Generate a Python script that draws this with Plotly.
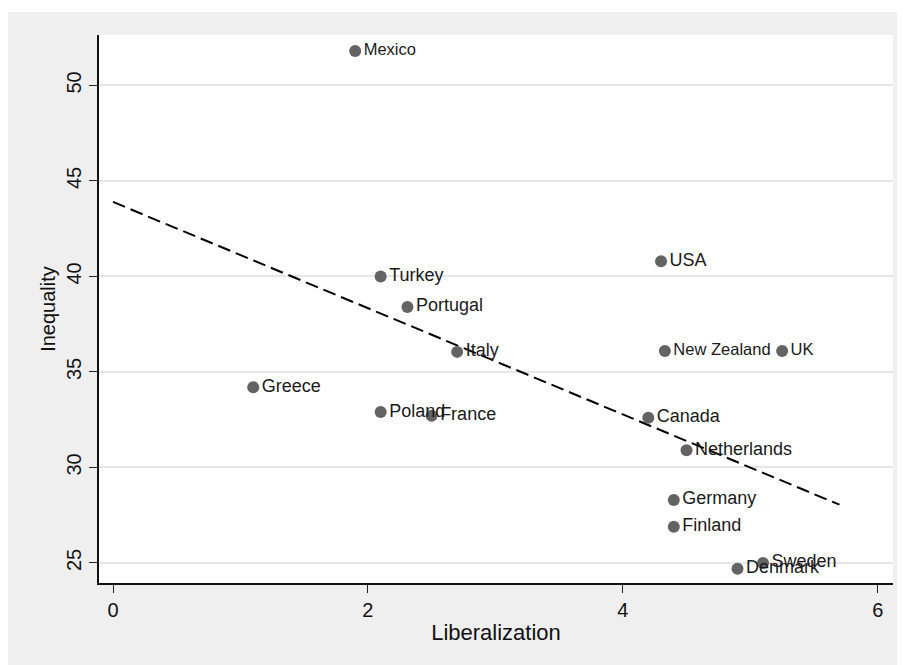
import plotly.graph_objects as go

countries = ["Mexico", "USA", "Turkey", "Portugal", "Italy", "New Zealand", "UK",
             "Greece", "Poland", "France", "Canada", "Netherlands", "Germany",
             "Finland", "Denmark", "Sweden"]
liberalization = [1.90, 4.30, 2.10, 2.31, 2.70, 4.33, 5.25,
                  1.10, 2.10, 2.50, 4.20, 4.50, 4.40,
                  4.40, 4.90, 5.10]
inequality = [51.8, 40.8, 40.0, 38.4, 36.05, 36.1, 36.1,
              34.2, 32.9, 32.7, 32.6, 30.9, 28.3,
              26.9, 24.7, 25.0]
narrow_labels = ["Mexico", "New Zealand", "UK"]
fit_x = [0.0, 5.7]
fit_y = [43.9, 28.05]
x_ticks = [0, 2, 4, 6]
y_ticks = [25, 30, 35, 40, 45, 50]

label_sizes = [16.5 if c in narrow_labels else 18 for c in countries]

W, H = 897, 657
L, R, T, B = 91, 12, 27, 82
pw, ph = W - L - R, H - T - B

fig = go.Figure()
fig.add_trace(go.Scatter(
    x=fit_x, y=fit_y, mode="lines",
    line=dict(color="black", width=2, dash="13px,6px"),
    showlegend=False, hoverinfo="skip"))
fig.add_trace(go.Scatter(
    x=liberalization, y=inequality, mode="markers+text",
    text=countries, textposition="middle right",
    marker=dict(size=12, color="#636363"),
    textfont=dict(size=label_sizes, color="#1a1a1a",
                  family="Liberation Sans, Arial, sans-serif"),
    cliponaxis=False, showlegend=False, hoverinfo="skip"))

# thin white strip at the very top (page background above the gray frame)
fig.add_shape(type="rect", xref="paper", yref="paper",
              x0=-L / pw - 0.02, x1=(W - L) / pw + 0.02,
              y0=(ph + T - 4) / ph, y1=(ph + T + 2) / ph,
              fillcolor="white", line_width=0, layer="below")

fig.update_layout(
    width=W, height=H,
    margin=dict(l=L, r=R, t=T, b=B),
    paper_bgcolor="#efefef", plot_bgcolor="white",
    font=dict(family="Liberation Sans, Arial, sans-serif", color="#111111"),
    xaxis=dict(range=[-0.11, 6.12], tickvals=x_ticks, ticks="outside", ticklen=8,
               tickwidth=1, tickcolor="#222", showgrid=False, zeroline=False,
               showline=True, linecolor="#111", linewidth=1.5,
               tickfont=dict(size=20),
               title=dict(text="Liberalization", font=dict(size=22), standoff=5)),
    yaxis=dict(range=[23.95, 52.64], tickvals=y_ticks, ticks="outside", ticklen=8,
               tickwidth=1, tickcolor="#222", showgrid=True, gridcolor="#e6e6e6", gridwidth=2,
               zeroline=False, showline=True, linecolor="#111", linewidth=1.5,
               tickangle=-90, tickfont=dict(size=20),
               title=dict(text="Inequality", font=dict(size=20), standoff=2)),
)

fig.write_html("out.html")
